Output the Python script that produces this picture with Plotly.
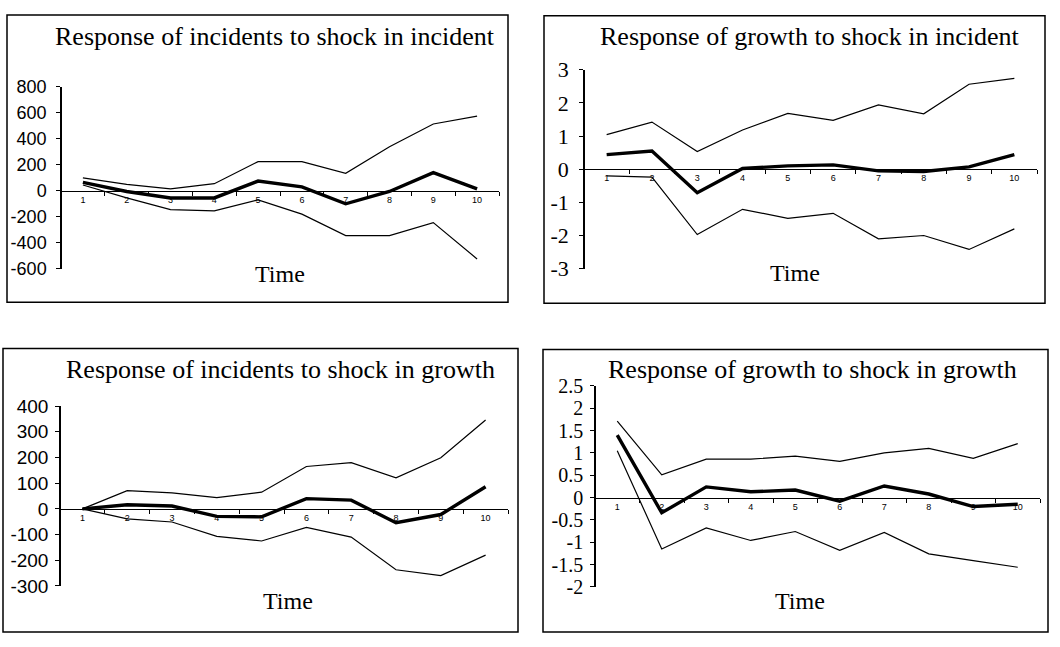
import plotly.graph_objects as go

W, H = 1060, 647

periods = [1, 2, 3, 4, 5, 6, 7, 8, 9, 10]

# Response of incidents to shock in incident
inc_inc_upper = [100, 50, 15, 55, 225, 225, 135, 340, 515, 575]
inc_inc_mid = [65, -5, -55, -55, 75, 30, -100, -5, 140, 15]
inc_inc_lower = [45, -55, -145, -155, -70, -180, -345, -345, -245, -525]

# Response of growth to shock in incident
gro_inc_upper = [1.04, 1.42, 0.53, 1.18, 1.68, 1.47, 1.94, 1.67, 2.56, 2.74]
gro_inc_mid = [0.44, 0.55, -0.71, 0.02, 0.10, 0.13, -0.05, -0.07, 0.07, 0.44]
gro_inc_lower = [-0.20, -0.24, -1.97, -1.21, -1.48, -1.33, -2.10, -2.00, -2.42, -1.80]

# Response of incidents to shock in growth
inc_gro_upper = [0, 71, 62, 44, 65, 165, 180, 121, 199, 346]
inc_gro_mid = [0, 16, 11, -29, -31, 40, 34, -54, -22, 86]
inc_gro_lower = [0, -39, -51, -107, -125, -72, -110, -237, -260, -180]

# Response of growth to shock in growth
gro_gro_upper = [1.71, 0.51, 0.86, 0.86, 0.93, 0.81, 1.00, 1.10, 0.88, 1.21]
gro_gro_mid = [1.40, -0.34, 0.24, 0.13, 0.17, -0.08, 0.26, 0.08, -0.20, -0.15]
gro_gro_lower = [1.05, -1.15, -0.68, -0.96, -0.76, -1.18, -0.78, -1.26, -1.41, -1.56]

titles = [
    "Response of incidents to shock in incident",
    "Response of growth to shock in incident",
    "Response of incidents to shock in growth",
    "Response of growth to shock in growth",
]
time_label = "Time"

ticks_inc_inc = [800, 600, 400, 200, 0, -200, -400, -600]
ticks_gro_inc = [3, 2, 1, 0, -1, -2, -3]
ticks_inc_gro = [400, 300, 200, 100, 0, -100, -200, -300]
ticks_gro_gro = [2.5, 2, 1.5, 1, 0.5, 0, -0.5, -1, -1.5, -2]

SERIF = "Liberation Serif, Times New Roman, serif"
SANS = "Liberation Sans, Arial, sans-serif"


def px_x(v):
    return v / W


def px_y(v):
    return 1 - v / H


def label(v):
    return ("%g" % v).replace("\u2212", "-")


# panel layout: plot box in pixels, y range, ticks, tick font, frame, title/Time positions
panels = [
    dict(series=(inc_inc_upper, inc_inc_mid, inc_inc_lower), ticks=ticks_inc_inc,
         x0=61, x1=499, y0=78, y1=267, rng=(-600, 800), font=SANS, fsize=18, stand=6,
         frame=(7, 3, 508, 302), title=(275, 26), time=(280, 273)),
    dict(series=(gro_inc_upper, gro_inc_mid, gro_inc_lower), ticks=ticks_gro_inc,
         x0=584, x1=1037, y0=60, y1=267, rng=(-3, 3), font=SERIF, fsize=22, stand=6,
         frame=(544, 4, 1045, 303), title=(810, 25), time=(795, 272)),
    dict(series=(inc_gro_upper, inc_gro_mid, inc_gro_lower), ticks=ticks_inc_gro,
         x0=60, x1=508, y0=410, y1=597, rng=(-300, 400), font=SANS, fsize=19, stand=3,
         frame=(3, 350, 518, 645), title=(280, 372), time=(288, 613)),
    dict(series=(gro_gro_upper, gro_gro_mid, gro_gro_lower), ticks=ticks_gro_gro,
         x0=595, x1=1040, y0=389, y1=598, rng=(-2, 2.5), font=SERIF, fsize=20, stand=3,
         frame=(543, 351, 1048, 645), title=(812, 372), time=(800, 613)),
]

fig = go.Figure()
layout = dict(
    width=W, height=H, margin=dict(l=0, r=0, t=0, b=0),
    paper_bgcolor="white", plot_bgcolor="white", showlegend=False,
    shapes=[], annotations=[],
)

for i, p in enumerate(panels):
    n = "" if i == 0 else str(i + 1)
    xa, ya = "x" + n, "y" + n
    upper, mid, lower = p["series"]
    for vals, width in ((upper, 1.2), (lower, 1.2), (mid, 3.4)):
        fig.add_trace(go.Scatter(x=periods, y=vals, xaxis=xa, yaxis=ya, mode="lines",
                                 line=dict(color="black", width=width), hoverinfo="skip"))

    ydom = [px_y(p["y1"]), px_y(p["y0"])]
    lo, hi = p["rng"]
    zero_pos = ydom[0] + (0 - lo) / (hi - lo) * (ydom[1] - ydom[0])

    # category axis crossing the value axis at zero, ticks between categories
    layout["xaxis" + n] = dict(
        domain=[px_x(p["x0"]), px_x(p["x1"])], range=[0.5, 10.5],
        anchor="free", position=zero_pos,
        showline=True, linecolor="black", linewidth=1.3, showgrid=False, zeroline=False,
        tickmode="array", tickvals=periods, ticktext=[str(v) for v in periods],
        ticks="", ticklabelstandoff=0,
        tickfont=dict(family=SANS, size=9, color="black"),
        minor=dict(tickmode="array", tickvals=[k + 0.5 for k in periods],
                   ticks="outside", ticklen=4, tickwidth=1, tickcolor="black"),
        fixedrange=True,
    )
    layout["yaxis" + n] = dict(
        domain=ydom, range=[lo, hi], anchor="free", position=px_x(p["x0"]),
        showline=True, linecolor="black", linewidth=1.5, showgrid=False, zeroline=False,
        tickmode="array", tickvals=p["ticks"], ticktext=[label(v) for v in p["ticks"]],
        ticks="outside", ticklen=4, tickwidth=1, tickcolor="black",
        ticklabelstandoff=p["stand"],
        tickfont=dict(family=p["font"], size=p["fsize"], color="black"),
        fixedrange=True,
    )

    fx0, fy0, fx1, fy1 = p["frame"]
    layout["shapes"].append(dict(type="rect", xref="paper", yref="paper",
                                 x0=px_x(fx0), x1=px_x(fx1), y0=px_y(fy1), y1=px_y(fy0),
                                 line=dict(color="black", width=1.5), fillcolor="rgba(0,0,0,0)"))
    tx, ty = p["title"]
    layout["annotations"].append(dict(text=titles[i], xref="paper", yref="paper",
                                      x=px_x(tx), y=px_y(ty), xanchor="center", yanchor="middle",
                                      showarrow=False,
                                      font=dict(family=SERIF, size=26, color="black")))
    mx, my = p["time"]
    layout["annotations"].append(dict(text=time_label, xref="paper", yref="paper",
                                      x=px_x(mx), y=px_y(my), xanchor="center", yanchor="middle",
                                      showarrow=False,
                                      font=dict(family=SERIF, size=24, color="black")))

fig.update_layout(**layout)
fig.write_html("out.html")
